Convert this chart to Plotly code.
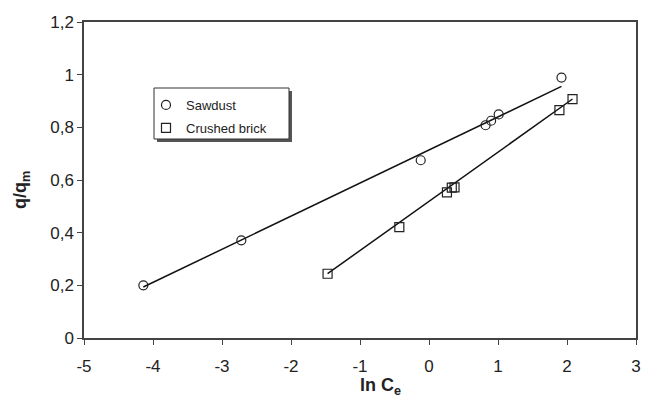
import plotly.graph_objects as go
import numpy as np

# Data
sawdust_x = [-4.14, -2.72, -0.12, 0.82, 0.90, 1.01, 1.92]
sawdust_y = [0.200, 0.371, 0.675, 0.808, 0.825, 0.849, 0.989]
brick_x = [-1.47, -0.43, 0.26, 0.33, 0.37, 1.89, 2.08]
brick_y = [0.244, 0.421, 0.553, 0.571, 0.572, 0.865, 0.907]

# Linear fit lines (slope, intercept)
sawdust_fit = (0.1257, 0.714)
brick_fit = (0.1868, 0.519)

x_ticks = [-5, -4, -3, -2, -1, 0, 1, 2, 3]
y_ticks = [0, 0.2, 0.4, 0.6, 0.8, 1.0, 1.2]
y_tick_labels = ["0", "0,2", "0,4", "0,6", "0,8", "1", "1,2"]

# page offset (default body margin) compensation; keep figure inside body box
OX, OY = 8, 8
W, H = 634, 389
ML, MR, MT, MB = 76, 6, 14, 59
pw, ph = W - ML - MR, H - MT - MB

def fit_line(xs, coef):
    xs = np.array([min(xs), max(xs)])
    return xs, coef[0] * xs + coef[1]

fig = go.Figure()
fx, fy = fit_line(sawdust_x, sawdust_fit)
fig.add_trace(go.Scatter(x=fx, y=fy, mode="lines", line=dict(color="#111", width=1.5),
                         showlegend=False, hoverinfo="skip"))
fx, fy = fit_line(brick_x, brick_fit)
fig.add_trace(go.Scatter(x=fx, y=fy, mode="lines", line=dict(color="#111", width=1.5),
                         showlegend=False, hoverinfo="skip"))
fig.add_trace(go.Scatter(x=sawdust_x, y=sawdust_y, mode="markers", name="Sawdust",
                         legendgroup="a",
                         marker=dict(symbol="circle-open", size=9, color="#222", line=dict(width=1.2))))
fig.add_trace(go.Scatter(x=brick_x, y=brick_y, mode="markers", name="Crushed brick",
                         legendgroup="b",
                         marker=dict(symbol="square-open", size=9, color="#222", line=dict(width=1.2))))

# legend box placement in page pixels
bx0, by0, bx1, by1 = 154, 88, 289, 139
def px2x(p): return (p - OX - ML) / pw
def px2y(p): return (H - MB - (p - OY)) / ph

fig.add_shape(type="rect", xref="paper", yref="paper",
              x0=px2x(bx0 + 3), x1=px2x(bx1 + 3), y0=px2y(by1 + 3), y1=px2y(by0 + 3),
              fillcolor="#555", line=dict(width=0), layer="above")
fig.add_shape(type="rect", xref="paper", yref="paper",
              x0=px2x(bx0), x1=px2x(bx1), y0=px2y(by1), y1=px2y(by0),
              fillcolor="white", line=dict(width=1, color="#333"), layer="above")

axis_common = dict(showgrid=False, zeroline=False, showline=True, linecolor="#444",
                   linewidth=1.5, mirror=True, ticks="outside", ticklen=5, tickwidth=1.2,
                   tickcolor="#444", automargin=False, ticklabeloverflow="allow",
                   tickfont=dict(family="Liberation Sans, Arial", size=17, color="#222"))

fig.update_layout(
    width=W, height=H,
    margin=dict(l=ML, r=MR, t=MT, b=MB, autoexpand=False),
    paper_bgcolor="white", plot_bgcolor="white",
    xaxis=dict(range=[-5, 3], tickvals=x_ticks, ticktext=[str(v) for v in x_ticks],
               ticklabelstandoff=7, **axis_common),
    yaxis=dict(range=[0, 1.2], tickvals=y_ticks, ticktext=y_tick_labels, **axis_common),
    legend=dict(x=px2x(146), y=px2y(90), xanchor="left", yanchor="top",
                bgcolor="rgba(0,0,0,0)", borderwidth=0,
                font=dict(family="Liberation Sans, Arial", size=13, color="#222"),
                traceorder="grouped", tracegroupgap=3, itemwidth=30),
    showlegend=True,
)

fig.add_annotation(text="<b>ln C<sub>e</sub></b>", xref="paper", yref="paper",
                   x=px2x(381), y=px2y(386), xanchor="center", yanchor="middle",
                   showarrow=False, font=dict(family="Liberation Sans, Arial", size=18, color="#222"))
fig.add_annotation(text="<b>q/q<sub>m</sub></b>", xref="paper", yref="paper",
                   x=px2x(22), y=px2y(190), xanchor="center", yanchor="middle", textangle=-90,
                   showarrow=False, font=dict(family="Liberation Sans, Arial", size=18, color="#222"))

fig.write_html("out.html", config={"displayModeBar": False})
